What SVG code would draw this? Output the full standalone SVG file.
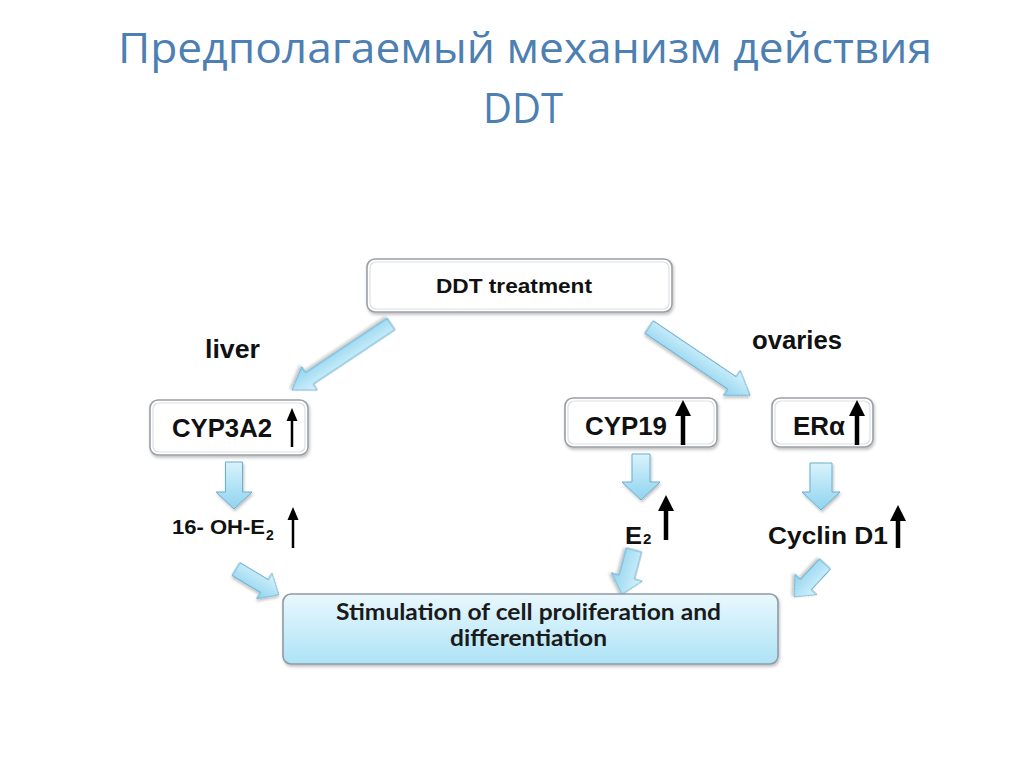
<svg xmlns="http://www.w3.org/2000/svg" width="1024" height="767" viewBox="0 0 1024 767">
<defs>
<style>
.title{font-family:"Open Sans","Noto Sans","DejaVu Sans",sans-serif;font-size:42px;fill:#4d7fb3}
.lbl{font-family:"Liberation Sans",Arial,sans-serif;font-weight:bold;fill:#111}
.box{fill:#fff;stroke:#9aa0a6;stroke-width:1.6}
.boxin{fill:none;stroke:#dcdfe2;stroke-width:1.2}
.barrow{fill:url(#ag);stroke:#6aaed0;stroke-width:1}
.up{stroke:#000;fill:none}
.head{fill:#000}
.calib{font-family:Lato,"Open Sans","Liberation Sans",sans-serif;font-weight:bold;font-size:22px;fill:#1a1a1a}
</style>
<linearGradient id="ag" x1="0" y1="0" x2="0" y2="1">
<stop offset="0" stop-color="#d8f3fc"/>
<stop offset="1" stop-color="#8fd3ef"/>
</linearGradient>
<linearGradient id="bg" x1="0" y1="0" x2="0" y2="1">
<stop offset="0" stop-color="#e9f8fd"/>
<stop offset="1" stop-color="#ade3f6"/>
</linearGradient>
<filter id="sh" x="-10%" y="-20%" width="120%" height="150%">
<feDropShadow dx="1" dy="2" stdDeviation="1.5" flood-color="#000" flood-opacity="0.25"/>
</filter>
</defs>
<rect width="1024" height="767" fill="#fff"/>

<g id="title">
<text class="title" x="118" y="63" textLength="814" lengthAdjust="spacingAndGlyphs">Предполагаемый механизм действия</text>
<text class="title" x="523" y="123" text-anchor="middle" textLength="80" lengthAdjust="spacingAndGlyphs">DDT</text>
</g>

<g id="connectors">
<path class="barrow" filter="url(#sh)" transform="translate(391,324) rotate(146.3)" d="M0,-7 L98,-7 L98,-14 L119,0 L98,14 L98,7 L0,7 Z"/>
<path class="barrow" filter="url(#sh)" transform="translate(649,327) rotate(34)" d="M0,-7.5 L100,-7.5 L100,-15 L122,0 L100,15 L100,7.5 L0,7.5 Z"/>
<path class="barrow" filter="url(#sh)" d="M225.5,462 L242.5,462 L242.5,492 L252,492 L234,509 L216,492 L225.5,492 Z"/>
<path class="barrow" filter="url(#sh)" d="M632,454 L650,454 L650,482 L660,482 L641,500 L622,482 L632,482 Z"/>
<path class="barrow" filter="url(#sh)" d="M810,463 L832,463 L832,492 L840,492 L821,510 L802,492 L810,492 Z"/>
<path class="barrow" filter="url(#sh)" transform="translate(236,569) rotate(31)" d="M0,-7.5 L33,-7.5 L33,-15 L50,0 L33,15 L33,7.5 L0,7.5 Z"/>
<path class="barrow" filter="url(#sh)" transform="translate(634,550) rotate(105)" d="M0,-8 L28,-8 L28,-16 L46,0 L28,16 L28,8 L0,8 Z"/>
<path class="barrow" filter="url(#sh)" transform="translate(825,564) rotate(133)" d="M0,-7.5 L28,-7.5 L28,-15 L45,0 L28,15 L28,7.5 L0,7.5 Z"/>
</g>

<g id="node-ddt">
<rect class="box" filter="url(#sh)" x="367" y="259" width="305" height="53" rx="8"/>
<rect class="boxin" x="370" y="262" width="299" height="47" rx="6"/>
<text class="lbl" x="514" y="293" font-size="21" text-anchor="middle" textLength="156" lengthAdjust="spacingAndGlyphs">DDT treatment</text>
</g>

<g id="label-liver">
<text class="lbl" x="205" y="358" font-size="25" textLength="55" lengthAdjust="spacingAndGlyphs">liver</text>
</g>
<g id="label-ovaries">
<text class="lbl" x="752" y="349" font-size="25" textLength="90" lengthAdjust="spacingAndGlyphs">ovaries</text>
</g>

<g id="node-cyp3a2">
<rect class="box" filter="url(#sh)" x="150" y="400" width="158" height="55" rx="8"/>
<rect class="boxin" x="153" y="403" width="152" height="49" rx="6"/>
<text class="lbl" x="172" y="437" font-size="26" textLength="100" lengthAdjust="spacingAndGlyphs">CYP3A2</text>
<line class="up" x1="292" y1="447" x2="292" y2="418" stroke-width="2.5"/>
<polygon class="head" points="292,408 286.5,421 297.5,421"/>
</g>

<g id="node-cyp19">
<rect class="box" filter="url(#sh)" x="565" y="398" width="152" height="49" rx="8"/>
<rect class="boxin" x="568" y="401" width="146" height="43" rx="6"/>
<text class="lbl" x="585" y="435" font-size="26" textLength="82" lengthAdjust="spacingAndGlyphs">CYP19</text>
<line class="up" x1="683" y1="445" x2="683" y2="412" stroke-width="4.5"/>
<polygon class="head" points="683,400 675,416 691,416"/>
</g>

<g id="node-era">
<rect class="box" filter="url(#sh)" x="772" y="398" width="101" height="49" rx="8"/>
<rect class="boxin" x="775" y="401" width="95" height="43" rx="6"/>
<text class="lbl" x="793" y="435" font-size="26" textLength="52" lengthAdjust="spacingAndGlyphs">ERα</text>
<line class="up" x1="857" y1="445" x2="857" y2="412" stroke-width="4.5"/>
<polygon class="head" points="857,400 849,416 865,416"/>
</g>

<g id="node-16oh">
<text class="lbl" x="172" y="534" font-size="20" textLength="93" lengthAdjust="spacingAndGlyphs">16- OH-E</text>
<text class="lbl" x="266" y="540" font-size="14">2</text>
<line class="up" x1="293" y1="548" x2="293" y2="517" stroke-width="2.5"/>
<polygon class="head" points="293,507 287.5,520 298.5,520"/>
</g>

<g id="node-e2">
<text class="lbl" x="625" y="544" font-size="24" textLength="17" lengthAdjust="spacingAndGlyphs">E</text>
<text class="lbl" x="643" y="544" font-size="15">2</text>
<line class="up" x1="666" y1="540" x2="666" y2="507" stroke-width="4.5"/>
<polygon class="head" points="666,495 658,511 674,511"/>
</g>

<g id="node-cyclin">
<text class="lbl" x="768" y="544" font-size="24" textLength="120" lengthAdjust="spacingAndGlyphs">Cyclin D1</text>
<line class="up" x1="898" y1="548" x2="898" y2="517" stroke-width="4.5"/>
<polygon class="head" points="898,505 890,521 906,521"/>
</g>

<g id="node-stimulation">
<rect filter="url(#sh)" x="283" y="594" width="495" height="70" rx="8" fill="url(#bg)" stroke="#8e9ba5" stroke-width="1.6"/>
<text class="calib" x="528.5" y="620" text-anchor="middle" textLength="385" lengthAdjust="spacingAndGlyphs">Stimulation of cell proliferation and</text>
<text class="calib" x="528.5" y="646" text-anchor="middle" textLength="157" lengthAdjust="spacingAndGlyphs">differentiation</text>
</g>
</svg>
